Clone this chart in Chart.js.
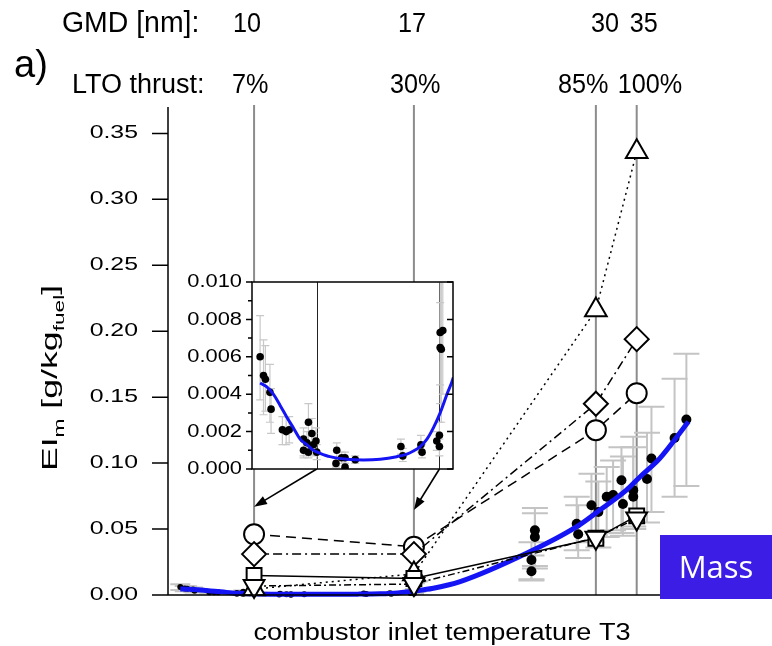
<!DOCTYPE html>
<html>
<head>
<meta charset="utf-8">
<script src="https://cdn.jsdelivr.net/npm/chart.js@4.4.1/dist/chart.umd.min.js"></script>
<style>
  html, body { margin: 0; padding: 0; background: #fff; }
  #wrap { position: relative; width: 772px; height: 646px; }
  #main { position: absolute; left: 0; top: 0; }
  #inset { position: absolute; left: 180px; top: 272px; }
</style>
</head>
<body>
<div id="wrap">
  <canvas id="main" width="772" height="646"></canvas>
  <canvas id="inset" width="290" height="210"></canvas>
</div>
<script>
// 運転点 (T3, 任意単位) と上のラベル
const opX = [17.5, 50, 87, 95.3];
const gmdText = ['10', '17', '30', '35'];
const ltoText = ['7%', '30%', '85%', '100%'];

// モデルの推定値 (記号ごと)
const circleY   = [0.046, 0.0366, 0.125, 0.153];
const diamondY  = [0.031, 0.031, 0.145, 0.194];
const triUpY    = [0.0045, 0.016, 0.216, 0.336];
const squareY   = [0.0148, 0.0125, 0.043, 0.060];
const triDownY  = [0.0068, 0.0083, 0.0435, 0.058];

// フィット曲線 (青)
const fitX = [2.5, 4.2, 6.0, 7.8, 9.5, 11.3, 13.1, 14.9, 16.6, 18.4, 21.0, 25.5, 29.9, 34.3, 38.7, 41.4, 43.1, 44.9, 46.7, 48.4, 50.2, 52.0, 53.7, 59.4, 72.9, 83.1, 87.8, 93.2, 96.0, 100.0, 105.8];
const fitY = [0.0046, 0.0044, 0.0040, 0.0034, 0.0028, 0.0022, 0.0016, 0.0013, 0.0010, 0.00084, 0.00066, 0.00052, 0.00048, 0.00052, 0.00066, 0.0008, 0.00096, 0.0012, 0.0016, 0.0022, 0.0030, 0.0040, 0.0049, 0.0101, 0.0316, 0.0518, 0.0644, 0.0795, 0.0897, 0.1036, 0.1314];

// 測定値 (低推力側, 小窓にも表示)
const lowX  = [2.5, 3.4, 3.9, 5.1, 5.4, 8.4, 9.4, 10.2, 14.0, 14.0, 14.9, 15.3, 15.3, 16.2, 16.6, 17.3, 17.5, 22.8, 22.6, 24.1, 25.0, 25.0, 27.7, 39.8, 40.3, 45.1, 45.4, 49.3, 50.0, 50.0, 50.2, 50.9, 50.2, 50.5];
const lowY  = [0.0060, 0.0050, 0.0048, 0.0041, 0.0032, 0.0021, 0.0020, 0.0021, 0.0016, 0.0010, 0.0014, 0.0025, 0.0009, 0.0019, 0.0013, 0.0015, 0.0009, 0.0010, 0.0003, 0.0006, 0.0006, 0.0001, 0.0005, 0.0012, 0.0007, 0.0013, 0.0009, 0.0015, 0.0018, 0.0012, 0.0073, 0.0074, 0.0065, 0.0064];
const lowLo = [0.0037, 0.0029, 0.0031, 0.0025, 0.0019, 0.0013, 0.0013, 0.0014, 0.0007, 0.0006, 0.0008, 0.0013, 0.0006, 0.0010, 0.0007, 0.0008, 0.0005, 0.0006, 0.0001, 0.0003, 0.0003, 0.0000, 0.0003, 0.0008, 0.0004, 0.0009, 0.0006, 0.0010, 0.0012, 0.0007, 0.0045, 0.0040, 0.0035, 0.0025];
const lowHi = [0.0082, 0.0069, 0.0066, 0.0056, 0.0043, 0.0028, 0.0028, 0.0028, 0.0022, 0.0016, 0.0020, 0.0035, 0.0014, 0.0027, 0.0019, 0.0022, 0.0013, 0.0014, 0.0006, 0.0009, 0.0009, 0.0003, 0.0007, 0.0016, 0.0011, 0.0018, 0.0013, 0.0020, 0.0025, 0.0016, 0.0105, 0.0105, 0.0089, 0.0100];

// 測定値 (高推力側)
const highX  = [73.9, 73.9, 74.6, 74.6, 83.1, 83.4, 86.1, 87.5, 89.2, 90.5, 92.2, 92.5, 94.6, 94.6, 97.4, 98.3, 103.0, 105.4];
const highY  = [0.018, 0.0265, 0.044, 0.049, 0.054, 0.046, 0.068, 0.063, 0.0745, 0.0758, 0.087, 0.069, 0.0795, 0.0745, 0.088, 0.1035, 0.119, 0.133];
const highLo = [0.011, 0.012, 0.020, 0.022, 0.034, 0.028, 0.040, 0.036, 0.044, 0.049, 0.047, 0.045, 0.052, 0.050, 0.055, 0.063, 0.0745, 0.0826];
const highHi = [0.030, 0.040, 0.062, 0.066, 0.0745, 0.068, 0.092, 0.086, 0.097, 0.102, 0.112, 0.105, 0.120, 0.112, 0.123, 0.1427, 0.164, 0.183];

// 目盛
const mainYTicks = [0, 0.05, 0.10, 0.15, 0.20, 0.25, 0.30, 0.35];
const insetYTicks = [0, 0.002, 0.004, 0.006, 0.008, 0.010];
const insetMinor = [0.001, 0.003, 0.005, 0.007, 0.009];
const arrowTipY = [0.0669, 0.0644];

const FONT = "'Liberation Sans', Arial, sans-serif";
const BLUE = '#1414f5';
const gmdDx = [-21, -16, -5, -7];
const ltoDx = [-22, -24, -38, -19];

function pts(xs, ys) {
    return xs.map((x, i) => ({ x: x, y: ys[i] }));
}

// 伸縮付きの文字描画
function text(ctx, s, x, y, o) {
    ctx.save();
    ctx.translate(x, y);
    ctx.scale(o.sx || 1, o.sy || 1);
    ctx.font = o.size + 'px ' + (o.family || FONT);
    ctx.textAlign = o.align || 'left';
    ctx.textBaseline = o.base || 'alphabetic';
    ctx.fillStyle = o.color || '#000';
    ctx.fillText(s, 0, 0);
    ctx.restore();
}

function arrow(ctx, x1, y1, x2, y2) {
    const a = Math.atan2(y2 - y1, x2 - x1);
    const L = 13, W = 4.5;
    ctx.save();
    ctx.strokeStyle = '#000';
    ctx.fillStyle = '#000';
    ctx.lineWidth = 1.6;
    ctx.beginPath();
    ctx.moveTo(x1, y1);
    ctx.lineTo(x2 - Math.cos(a) * L * 0.8, y2 - Math.sin(a) * L * 0.8);
    ctx.stroke();
    ctx.beginPath();
    ctx.moveTo(x2, y2);
    ctx.lineTo(x2 - Math.cos(a) * L - Math.sin(a) * W, y2 - Math.sin(a) * L + Math.cos(a) * W);
    ctx.lineTo(x2 - Math.cos(a) * L + Math.sin(a) * W, y2 - Math.sin(a) * L - Math.cos(a) * W);
    ctx.closePath();
    ctx.fill();
    ctx.restore();
}

// エラーバー (データセットの errLo / errHi から)
const errorBars = {
    id: 'errorBars',
    beforeDatasetsDraw(chart) {
        const { ctx, scales: { x, y }, chartArea: a } = chart;
        chart.data.datasets.forEach((ds) => {
            if (!ds.errLo) return;
            ctx.save();
            if (ds.errClip) {
                ctx.beginPath();
                ctx.rect(a.left, a.top, a.width, a.height);
                ctx.clip();
            }
            ctx.strokeStyle = ds.errColor;
            ctx.lineWidth = ds.errWidth;
            ds.data.forEach((p, k) => {
                const px = x.getPixelForValue(p.x);
                const y1 = y.getPixelForValue(ds.errLo[k]);
                const y2 = y.getPixelForValue(ds.errHi[k]);
                ctx.beginPath();
                ctx.moveTo(px, y1); ctx.lineTo(px, y2);
                ctx.moveTo(px - ds.capW, y1); ctx.lineTo(px + ds.capW, y1);
                ctx.moveTo(px - ds.capW, y2); ctx.lineTo(px + ds.capW, y2);
                ctx.stroke();
            });
            ctx.restore();
        });
    }
};

// 小窓の装飾
const insetDecor = {
    id: 'insetDecor',
    beforeDraw(c) {
        const a = c.chartArea;
        c.ctx.save();
        c.ctx.fillStyle = '#fff';
        c.ctx.fillRect(a.left, a.top, a.width, a.height);
        c.ctx.restore();
    },
    beforeDatasetsDraw(c) {
        const { ctx, chartArea: a, scales: { x } } = c;
        ctx.save();
        ctx.strokeStyle = '#222';
        ctx.lineWidth = 1;
        [opX[0], opX[1]].forEach(v => {
            const px = Math.round(x.getPixelForValue(v)) + 0.5;
            ctx.beginPath();
            ctx.moveTo(px, a.top);
            ctx.lineTo(px, a.bottom);
            ctx.stroke();
        });
        ctx.restore();
    },
    afterDraw(c) {
        const { ctx, chartArea: a, scales: { y } } = c;
        ctx.save();
        ctx.strokeStyle = '#000';
        ctx.lineWidth = 1.5;
        ctx.strokeRect(a.left, a.top, a.width, a.height);
        ctx.beginPath();
        insetYTicks.forEach(v => {
            const py = y.getPixelForValue(v);
            ctx.moveTo(a.left - 6, py); ctx.lineTo(a.left, py);
            ctx.moveTo(a.right - 6, py); ctx.lineTo(a.right, py);
        });
        insetMinor.forEach(v => {
            const py = y.getPixelForValue(v);
            ctx.moveTo(a.left - 4, py); ctx.lineTo(a.left, py);
        });
        ctx.stroke();
        ctx.restore();
        insetYTicks.forEach(v => {
            text(ctx, v.toFixed(3), a.left - 10, y.getPixelForValue(v), { size: 19, align: 'right', base: 'middle', sx: 1.15 });
        });
    }
};

const insetChart = new Chart(document.getElementById('inset'), {
    type: 'scatter',
    data: {
        datasets: [
            { data: pts(fitX, fitY), showLine: true, borderColor: BLUE, borderWidth: 3, pointRadius: 0, cubicInterpolationMode: 'monotone' },
            { data: pts(lowX, lowY), pointRadius: 3.8, pointBackgroundColor: '#000', pointBorderWidth: 0,
              errLo: lowLo, errHi: lowHi, capW: 4, errWidth: 1.2, errColor: '#c8c8c8', errClip: true }
        ]
    },
    options: {
        responsive: false, animation: false, devicePixelRatio: 1, events: [],
        layout: { padding: { left: 72, right: 17, top: 10, bottom: 13 } },
        scales: {
            x: { display: false, min: 0.35, max: 53.6 },
            y: { display: false, min: 0, max: 0.010 }
        },
        plugins: { legend: { display: false }, tooltip: { enabled: false } }
    },
    plugins: [insetDecor, errorBars]
});

// メイングラフの装飾
const mainDecor = {
    id: 'mainDecor',
    beforeDatasetsDraw(c) {
        const { ctx, chartArea: a, scales: { x } } = c;
        ctx.save();
        ctx.strokeStyle = '#8c8c8c';
        ctx.lineWidth = 2;
        opX.forEach(v => {
            const px = x.getPixelForValue(v);
            ctx.beginPath();
            ctx.moveTo(px, a.top - 2);
            ctx.lineTo(px, a.bottom);
            ctx.stroke();
        });
        ctx.restore();
    },
    afterDraw(c) {
        const { ctx, chartArea: a, scales: { x, y } } = c;
        // 軸
        ctx.save();
        ctx.strokeStyle = '#000';
        ctx.lineWidth = 1.5;
        ctx.beginPath();
        ctx.moveTo(a.left, a.top);
        ctx.lineTo(a.left, a.bottom);
        ctx.lineTo(a.right, a.bottom);
        mainYTicks.forEach(v => {
            const py = y.getPixelForValue(v);
            ctx.moveTo(a.left - 16, py); ctx.lineTo(a.left, py);
        });
        ctx.stroke();
        ctx.restore();
        mainYTicks.forEach(v => {
            text(ctx, v.toFixed(2), a.left - 30, y.getPixelForValue(v), { size: 18, align: 'right', base: 'middle', sx: 1.38 });
        });

        // y 軸タイトル (下付き文字付き)
        const segs = [['EI', 0], ['m', 1], [' [g/kg', 0], ['fuel', 1], [']', 0]];
        ctx.save();
        ctx.translate(57, 378);
        ctx.rotate(-Math.PI / 2);
        ctx.scale(1.62, 1);
        let total = 0;
        const w = segs.map(s => {
            ctx.font = (s[1] ? 14 : 22) + 'px ' + FONT;
            const m = ctx.measureText(s[0]).width;
            total += m;
            return m;
        });
        let cx = -total / 2;
        ctx.fillStyle = '#000';
        ctx.textBaseline = 'alphabetic';
        segs.forEach((s, i) => {
            ctx.font = (s[1] ? 14 : 22) + 'px ' + FONT;
            ctx.fillText(s[0], cx, s[1] ? 7 : 0);
            cx += w[i];
        });
        ctx.restore();

        // x 軸タイトル
        text(ctx, 'combustor inlet temperature T3', 442, 640, { size: 23, align: 'center', sx: 1.18 });

        // 上のラベル
        text(ctx, 'GMD [nm]:', 62, 32, { size: 29, sx: 0.98 });
        text(ctx, 'LTO thrust:', 72, 93, { size: 27 });
        text(ctx, 'a)', 14, 77, { size: 38 });
        opX.forEach((v, i) => {
            const px = x.getPixelForValue(v);
            text(ctx, gmdText[i], px + gmdDx[i], 32, { size: 28, sx: 0.9 });
            text(ctx, ltoText[i], px + ltoDx[i], 93, { size: 28, sx: 0.9 });
        });

        // 小窓から運転点への矢印
        const ic = insetChart;
        const cv = ic.canvas;
        [opX[0], opX[1]].forEach((v, i) => {
            const sx = cv.offsetLeft + ic.scales.x.getPixelForValue(v);
            const sy = cv.offsetTop + ic.chartArea.bottom;
            arrow(ctx, sx, sy, x.getPixelForValue(v), y.getPixelForValue(arrowTipY[i]));
        });

        // Mass ラベル
        ctx.save();
        ctx.fillStyle = '#3b1de6';
        ctx.fillRect(660, 535, 112, 64);
        ctx.restore();
        text(ctx, 'Mass', 716, 578, { size: 31, align: 'center', color: '#fff', family: "'Open Sans', sans-serif" });
    }
};

function markerSet(ys, style, radius, dash, rot) {
    return {
        data: pts(opX, ys),
        showLine: true,
        borderColor: '#000',
        borderWidth: 1.5,
        borderDash: dash,
        pointStyle: style,
        pointRadius: radius,
        pointRotation: rot || 0,
        pointBackgroundColor: '#fff',
        pointBorderColor: '#000',
        pointBorderWidth: 2,
        tension: 0,
        clip: false
    };
}

new Chart(document.getElementById('main'), {
    type: 'scatter',
    data: {
        datasets: [
            markerSet(triDownY, 'triangle', 12, [7, 3, 2, 3], 180),
            markerSet(squareY, 'rect', 10.5, []),
            markerSet(triUpY, 'triangle', 12.5, [2, 4]),
            markerSet(diamondY, 'rectRot', 12, [9, 4, 2, 4]),
            markerSet(circleY, 'circle', 10, [10, 6]),
            { data: pts(fitX, fitY), showLine: true, borderColor: BLUE, borderWidth: 5, pointRadius: 0, cubicInterpolationMode: 'monotone', clip: false },
            { data: pts(highX, highY), pointRadius: 5, pointBackgroundColor: '#000', pointBorderWidth: 0, clip: false,
              errLo: highLo, errHi: highHi, capW: 13, errWidth: 2, errColor: '#c4c4c4' },
            { data: pts(lowX, lowY), pointRadius: 3, pointBackgroundColor: '#000', pointBorderWidth: 0, clip: false,
              errLo: lowLo, errHi: lowHi, capW: 10, errWidth: 2, errColor: '#c4c4c4' }
        ]
    },
    options: {
        responsive: false, animation: false, devicePixelRatio: 1, events: [],
        layout: { padding: { left: 168, right: 63, top: 107, bottom: 51 } },
        scales: {
            x: { display: false, min: 0, max: 110 },
            y: { display: false, min: 0, max: 0.37 }
        },
        plugins: { legend: { display: false }, tooltip: { enabled: false } }
    },
    plugins: [mainDecor, errorBars]
});
</script>
</body>
</html>
